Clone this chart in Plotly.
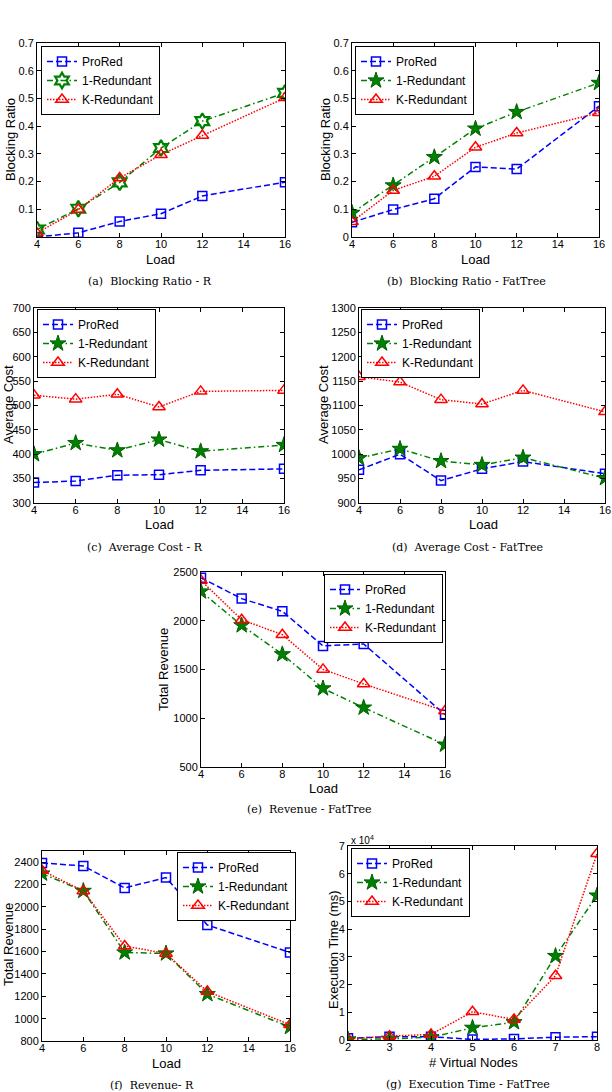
import plotly.graph_objects as go

# ---------------- data ----------------
load = [4, 6, 8, 10, 12, 16]
load_ticks = [4, 6, 8, 10, 12, 14, 16]
vnodes = [2, 3, 4, 5, 6, 7, 8]

series_names = ["ProRed", "1-Redundant", "K-Redundant"]

# (a) Blocking Ratio - R
a_prored = [0.0, 0.015, 0.056, 0.084, 0.148, 0.198]
a_one = [0.027, 0.102, 0.197, 0.321, 0.418, 0.520]
a_k = [0.014, 0.099, 0.213, 0.297, 0.366, 0.502]

# (b) Blocking Ratio - FatTree
b_prored = [0.053, 0.099, 0.138, 0.253, 0.245, 0.472]
b_one = [0.087, 0.186, 0.288, 0.391, 0.451, 0.556]
b_k = [0.055, 0.168, 0.219, 0.324, 0.375, 0.448]

# (c) Average Cost - R
c_prored = [342, 345, 357, 358, 367, 370]
c_one = [400, 423, 408, 430, 406, 419]
c_k = [521, 513, 523, 497, 529, 531]

# (d) Average Cost - FatTree
d_prored = [968, 1000, 946, 970, 985, 960]
d_one = [992, 1011, 986, 978, 993, 951]
d_k = [1159, 1148, 1112, 1103, 1131, 1087]

# (e) Revenue - FatTree
e_prored = [2440, 2227, 2097, 1742, 1762, 1037]
e_one = [2300, 1953, 1656, 1306, 1109, 729]
e_k = [2413, 2011, 1857, 1501, 1352, 1074]

# (f) Revenue - R
f_prored = [2393, 2366, 2170, 2262, 1838, 1592]
f_one = [2298, 2143, 1592, 1583, 1219, 925]
f_k = [2325, 2143, 1650, 1583, 1243, 946]

# (g) Execution Time - FatTree (ms)
g_prored = [600, 1200, 1200, 200, 400, 1000, 1200]
g_one = [200, 400, 1000, 4400, 6400, 30300, 52100]
g_k = [400, 1400, 2000, 10200, 7400, 23200, 67200]

# ---------------- layout helpers ----------------
W, H = 612, 1092


def fx(x):
    return x / W


def fy(y):
    return 1 - y / H


FONT = "Liberation Sans, Arial, Helvetica, sans-serif"
SERIF = "DejaVu Serif, Liberation Serif, serif"
BLUE, GREEN, RED = "#0000ff", "#008000", "#ff0000"

panels = [
    dict(x=load, ys=[a_prored, a_one, a_k], box=(37, 285, 43, 237), xr=[4, 16], xt=load_ticks,
         yr=[0, 0.7], yt=[0.1, 0.2, 0.3, 0.4, 0.5, 0.6, 0.7], ytt=None,
         xl="Load", yl="Blocking Ratio", xlp=(160, 259), ylp=(10, 140),
         cap="(a)  Blocking Ratio - R", capp=(150, 281), leg=(41, 46, "left"), star="hexagram-open"),
    dict(x=load, ys=[b_prored, b_one, b_k], box=(352, 599, 43, 237), xr=[4, 16], xt=load_ticks,
         yr=[0, 0.7], yt=[0, 0.1, 0.2, 0.3, 0.4, 0.5, 0.6, 0.7], ytt=None,
         xl="Load", yl="Blocking Ratio", xlp=(475, 259), ylp=(325, 140),
         cap="(b)  Blocking Ratio - FatTree", capp=(466, 281), leg=(355, 46, "left"), star="star"),
    dict(x=load, ys=[c_prored, c_one, c_k], box=(34, 284, 308, 503), xr=[4, 16], xt=load_ticks,
         yr=[300, 700], yt=list(range(300, 701, 50)), ytt=None,
         xl="Load", yl="Average Cost", xlp=(159, 524), ylp=(8, 405),
         cap="(c)  Average Cost - R", capp=(145, 547), leg=(37, 309, "left"), star="star"),
    dict(x=load, ys=[d_prored, d_one, d_k], box=(359, 605, 308, 503), xr=[4, 16], xt=load_ticks,
         yr=[900, 1300], yt=list(range(900, 1301, 50)), ytt=None,
         xl="Load", yl="Average Cost", xlp=(483, 524), ylp=(323, 405),
         cap="(d)  Average Cost - FatTree", capp=(468, 547), leg=(361, 309, "left"), star="star"),
    dict(x=load, ys=[e_prored, e_one, e_k], box=(201, 445, 572, 767), xr=[4, 16], xt=load_ticks,
         yr=[500, 2500], yt=list(range(500, 2501, 500)), ytt=None,
         xl="Load", yl="Total Revenue", xlp=(323, 788), ylp=(163, 670),
         cap="(e)  Revenue - FatTree", capp=(309, 809), leg=(443, 574, "right"), star="star"),
    dict(x=load, ys=[f_prored, f_one, f_k], box=(42, 290, 851, 1041), xr=[4, 16], xt=load_ticks,
         yr=[800, 2500], yt=list(range(800, 2401, 200)), ytt=None,
         xl="Load", yl="Total Revenue", xlp=(167, 1063), ylp=(8, 945),
         cap="(f)  Revenue- R", capp=(152, 1085), leg=(296, 852, "right"), star="star"),
    dict(x=vnodes, ys=[g_prored, g_one, g_k], box=(348, 597, 846, 1040), xr=[2, 8], xt=vnodes,
         yr=[0, 70000], yt=list(range(0, 70001, 10000)), ytt=[str(i) for i in range(8)],
         xl="# Virtual Nodes", yl="Execution Time (ms)", xlp=(473, 1062), ylp=(333, 950),
         cap="(g)  Execution Time - FatTree", capp=(468, 1084), leg=(351, 848, "left"), star="star"),
]

fig = go.Figure()
layout = dict(
    width=W, height=H, margin=dict(l=0, r=0, t=0, b=0),
    paper_bgcolor="white", plot_bgcolor="white",
    font=dict(family=FONT, size=11, color="black"),
    annotations=[],
)

for i, p in enumerate(panels, start=1):
    sfx = "" if i == 1 else str(i)
    xa, ya = "x" + sfx, "y" + sfx
    leg = "legend" + sfx
    styles = [
        dict(color=BLUE, dash="6px,3px", symbol="square-open", size=9, lw=1.5, mc=BLUE),
        dict(color=GREEN, dash="6px,3px,1.5px,3px", symbol=p["star"], size=12,
             lw=1 if p["star"] == "star" else 2.2, mc=GREEN),
        dict(color=RED, dash="1.5px,1.5px", symbol="triangle-up-open", size=11, lw=1.5, mc=RED),
    ]
    for name, yv, st in zip(series_names, p["ys"], styles):
        mline = dict(width=st["lw"], color="#006000" if st["symbol"] == "star" else st["mc"])
        fig.add_trace(go.Scatter(
            x=p["x"], y=yv, name=name, mode="lines+markers",
            xaxis=xa, yaxis=ya, legend=leg,
            line=dict(color=st["color"], dash=st["dash"], width=1.5),
            marker=dict(symbol=st["symbol"], size=st["size"], color=st["mc"], line=mline),
        ))
    l, r, t, b = p["box"]
    axcommon = dict(showgrid=False, zeroline=False, showline=True, linecolor="black",
                    linewidth=1, mirror="ticks", ticks="inside", ticklen=4,
                    tickcolor="black", tickfont=dict(family=FONT, size=11),
                    automargin=False, fixedrange=True)
    layout["xaxis" + sfx] = dict(axcommon, domain=[fx(l), fx(r)], range=p["xr"],
                                 tickvals=p["xt"], anchor=ya, ticklabelstandoff=-3)
    ydict = dict(axcommon, domain=[fy(b), fy(t)], range=p["yr"], tickvals=p["yt"], anchor=xa)
    if p["ytt"] is not None:
        ydict["ticktext"] = p["ytt"]
    layout["yaxis" + sfx] = ydict
    lx, ly, lanchor = p["leg"]
    layout["legend" + sfx] = dict(
        x=fx(lx), y=fy(ly), xanchor=lanchor, yanchor="top", xref="paper", yref="paper",
        bgcolor="white", bordercolor="black", borderwidth=1,
        font=dict(family=FONT, size=12), tracegroupgap=0, itemwidth=30,
    )
    layout["annotations"] += [
        dict(text=p["xl"], x=fx(p["xlp"][0]), y=fy(p["xlp"][1]), xref="paper", yref="paper",
             showarrow=False, font=dict(family=FONT, size=13), xanchor="center", yanchor="middle"),
        dict(text=p["yl"], x=fx(p["ylp"][0]), y=fy(p["ylp"][1]), xref="paper", yref="paper",
             showarrow=False, textangle=-90, font=dict(family=FONT, size=13),
             xanchor="center", yanchor="middle"),
        dict(text=p["cap"], x=fx(p["capp"][0]), y=fy(p["capp"][1]), xref="paper", yref="paper",
             showarrow=False, font=dict(family=SERIF, size=11), xanchor="center", yanchor="middle"),
    ]

layout["annotations"].append(
    dict(text="x 10<sup>4</sup>", x=fx(349), y=fy(840), xref="paper", yref="paper",
         showarrow=False, font=dict(family=FONT, size=10), xanchor="left", yanchor="middle"))
layout["showlegend"] = True

fig.update_layout(**layout)
fig.write_html("out.html")
